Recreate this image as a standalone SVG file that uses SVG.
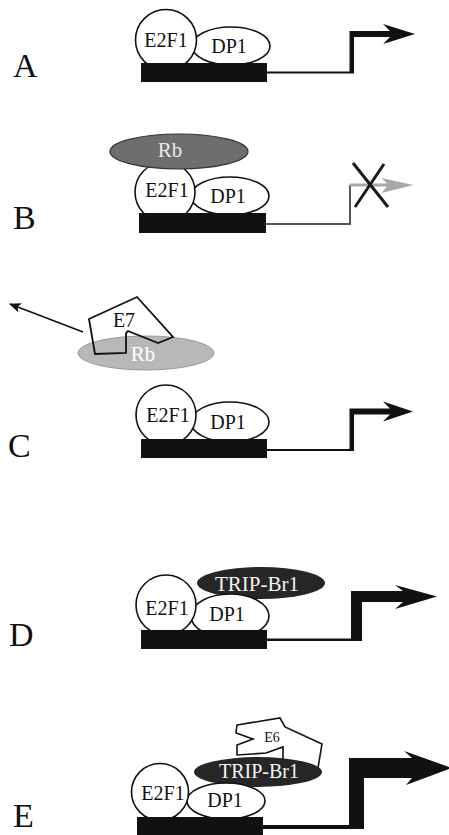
<svg xmlns="http://www.w3.org/2000/svg" width="449" height="835" viewBox="0 0 449 835">
  <style>
    .lbl { font-family: "Liberation Serif", "Times New Roman", serif; fill: #111; }
    .panel { font-size: 34px; }
    .prot { font-size: 20px; text-anchor: middle; }
    .small { font-size: 14px; text-anchor: middle; }
    .inv { fill: #f4f4f4; }
    .e2f1 { fill: #fff; stroke: #111; stroke-width: 1.6; }
    .dp1 { fill: #fff; stroke: #111; stroke-width: 1.6; }
    .dna { fill: #111; }
    .tx { fill: #111; }
  </style>
  <defs>
    <marker id="head" viewBox="0 0 12 10" refX="11" refY="5" markerWidth="12" markerHeight="10" markerUnits="userSpaceOnUse" orient="auto">
      <path d="M0,0 L12,5 L0,10 L3,5 Z" fill="#111"/>
    </marker>
  </defs>
  <rect width="449" height="835" fill="#fff"/>

  <!-- panel letters -->
  <g id="letters">
    <text class="lbl panel" x="13" y="77">A</text>
    <text class="lbl panel" x="13" y="229">B</text>
    <text class="lbl panel" x="8" y="457">C</text>
    <text class="lbl panel" x="9" y="646">D</text>
    <text class="lbl panel" x="13" y="827">E</text>
  </g>

  <!-- A: E2F1/DP1 on the promoter -->
  <g id="A-dp1"><ellipse class="dp1" cx="231" cy="46" rx="39" ry="19"/><text class="lbl prot" x="229" y="53">DP1</text></g>
  <g id="A-e2f1"><circle class="e2f1" cx="166" cy="40" r="30.5"/><text class="lbl prot" x="166" y="47">E2F1</text></g>
  <g id="A-dna"><rect class="dna" x="141" y="63" width="126" height="19"/></g>

  <!-- B: Rb bound, transcription blocked -->
  <g id="B-dp1"><ellipse class="dp1" cx="230" cy="196" rx="39" ry="19"/><text class="lbl prot" x="228" y="203">DP1</text></g>
  <g id="B-e2f1"><circle class="e2f1" cx="165" cy="192" r="30"/><text class="lbl prot" x="167" y="197">E2F1</text></g>
  <g id="B-dna"><rect class="dna" x="139" y="213" width="127" height="20"/></g>
  <g id="B-rb"><ellipse cx="179" cy="151.5" rx="69" ry="17.5" fill="#6e6e6e" stroke="#333" stroke-width="1.2"/><text class="lbl prot" x="170" y="157" style="fill:#eaeaea;font-size:21px">Rb</text></g>

  <!-- C: E7 carries Rb away -->
  <g id="C-rb"><ellipse cx="146" cy="353" rx="68" ry="17" fill="#b8b8b8" stroke="#9a9a9a" stroke-width="1"/><text class="lbl prot" x="143" y="361" style="fill:#fff;font-size:21px">Rb</text></g>
  <g id="C-e7"><path d="M89,319 L137,297 L173,337 L158,343 L128,331 L126,333 L126,353 L95,354 Z" fill="none" stroke="#111" stroke-width="1.8" stroke-linejoin="miter"/><text class="lbl prot" x="124" y="327">E7</text></g>
  <g id="C-dp1"><ellipse class="dp1" cx="230" cy="422" rx="39" ry="20"/><text class="lbl prot" x="228" y="429">DP1</text></g>
  <g id="C-e2f1"><circle class="e2f1" cx="166" cy="415" r="30"/><text class="lbl prot" x="168" y="422">E2F1</text></g>
  <g id="C-dna"><rect class="dna" x="141" y="439" width="126" height="19"/></g>

  <!-- D: TRIP-Br1 coactivation -->
  <g id="D-trip"><ellipse cx="261" cy="583" rx="64" ry="16" fill="#262626"/><text class="lbl prot inv" x="257" y="591" style="font-size:21px">TRIP-Br1</text></g>
  <g id="D-dp1"><ellipse class="dp1" cx="230" cy="616" rx="39" ry="22"/><text class="lbl prot" x="227" y="621">DP1</text></g>
  <g id="D-e2f1"><circle class="e2f1" cx="166" cy="605" r="30"/><text class="lbl prot" x="167" y="615">E2F1</text></g>
  <g id="D-dna"><rect class="dna" x="141" y="630" width="126" height="19"/></g>

  <!-- E: E6 enhances TRIP-Br1 -->
  <g id="E-e6"><path d="M237,725 L280,718 L285,727 L322,744 L318,768 L283,768 L283,747 L266,753 L237,755 L237,745 L253,739 L236,733 Z" fill="#fff" stroke="#111" stroke-width="1.6" stroke-linejoin="miter"/><text class="lbl small" x="272" y="742">E6</text></g>
  <g id="E-trip"><ellipse cx="258" cy="772" rx="64" ry="15" fill="#262626"/><text class="lbl prot inv" x="259" y="778">TRIP-Br1</text></g>
  <g id="E-dp1"><ellipse class="dp1" cx="226" cy="801" rx="39" ry="18"/><text class="lbl prot" x="225" y="807">DP1</text></g>
  <g id="E-e2f1"><circle class="e2f1" cx="160" cy="792" r="28.5"/><text class="lbl prot" x="163" y="800">E2F1</text></g>
  <g id="E-dna"><rect class="dna" x="137" y="817" width="126" height="20"/></g>

  <!-- transcription arrows and release arrow -->
  <g id="connectors">
    <path id="A-arrow" class="tx" d="M267,71.5 L349.5,71.5 L349.5,31 L390,31 L383,24 L415,34 L383,44 L390,37 L354,37 L354,73.5 L267,73.5 Z"/>
    <g id="B-arrow">
      <path d="M266,224 L350,224 L350,185" fill="none" stroke="#555" stroke-width="2"/>
      <path d="M350,183.5 L387,183.5 L381.5,178 L413.5,185 L381.5,193 L387,186.5 L350,186.5 Z" fill="#a8a8a8"/>
      <path d="M353,163 L388,207 M384,164 L355,207" stroke="#1a1a1a" stroke-width="3" fill="none"/>
    </g>
    <path id="C-arrow" class="tx" d="M267,449 L349.5,449 L349.5,408.5 L390,408.5 L383,401.5 L413,411.5 L383,421.5 L390,414.5 L354,414.5 L354,451 L267,451 Z"/>
    <line id="C-release" x1="83" y1="332" x2="10" y2="304" stroke="#111" stroke-width="1.6" marker-end="url(#head)"/>
    <path id="D-arrow" class="tx" d="M267,638.5 L351,638.5 L351,591 L403,591 L395,585 L437,596.5 L395,609 L403,602 L362,602 L362,641 L267,641 Z"/>
    <path id="E-arrow" class="tx" d="M263,825 L349,825 L349,758 L412,758 L404,751 L452,768 L406,785 L412,778 L364,778 L364,829 L263,829 Z"/>
  </g>
</svg>
